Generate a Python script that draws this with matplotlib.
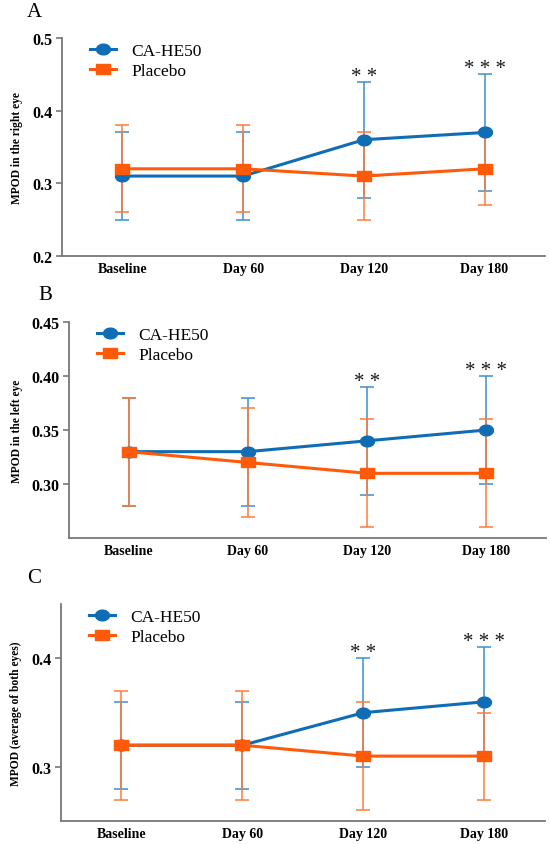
import numpy as np
import matplotlib
matplotlib.use('Agg')
import matplotlib.pyplot as plt
from matplotlib.path import Path

# data
days = ['Baseline', 'Day 60', 'Day 120', 'Day 180']

right_ca = [0.31, 0.31, 0.36, 0.37]
right_ca_err = [0.06, 0.06, 0.08, 0.08]
right_pl = [0.32, 0.32, 0.31, 0.32]
right_pl_err = [0.06, 0.06, 0.06, 0.05]

left_ca = [0.33, 0.33, 0.34, 0.35]
left_ca_err = [0.05, 0.05, 0.05, 0.05]
left_pl = [0.33, 0.32, 0.31, 0.31]
left_pl_err = [0.05, 0.05, 0.05, 0.05]

both_ca = [0.32, 0.32, 0.35, 0.36]
both_ca_err = [0.04, 0.04, 0.05, 0.05]
both_pl = [0.32, 0.32, 0.31, 0.31]
both_pl_err = [0.05, 0.05, 0.05, 0.04]

stars = ['', '', '* *', '* * *']

plt.rcParams['font.family'] = ['Liberation Serif', 'DejaVu Serif']

blue = '#0F6DB5'
blue_err = '#3A8FD0'
orange = '#FF5A0A'
orange_err = '#FF7A3A'

# slightly wide markers like in the picture
t = np.linspace(0, 2 * np.pi, 60)
ellipse = Path(np.column_stack([1.3 * np.cos(t), np.sin(t)]), closed=True)
wide_sq = Path([(-1.3, -1), (1.3, -1), (1.3, 1), (-1.3, 1), (-1.3, -1)], closed=True)

fig = plt.figure(figsize=(5.5, 8.45), dpi=100)

panels = [
    ('A', [0.1127, 0.6959, 0.878, 0.2579], right_ca, right_ca_err, right_pl, right_pl_err,
     (0.2, 0.5), [0.2, 0.3, 0.4, 0.5], '%.1f', 'MPOD in the right eye', -0.08, -0.072),
    ('B', [0.1255, 0.3618, 0.867, 0.2563], left_ca, left_ca_err, left_pl, left_pl_err,
     (0.25, 0.45), [0.30, 0.35, 0.40, 0.45], '%.2f', 'MPOD in the left eye', -0.096, -0.065),
    ('C', [0.1109, 0.0269, 0.880, 0.2571], both_ca, both_ca_err, both_pl, both_pl_err,
     (0.25, 0.45), [0.3, 0.4], '%.1f', 'MPOD (average of both eyes)', -0.081, -0.07),
]

x = np.arange(len(days))
for lab, rect, ca, ca_e, pl, pl_e, ylim, yt, fmt, ylab, lx, px in panels:
    ax = fig.add_axes(rect)
    ax.errorbar(x, ca, yerr=ca_e, fmt='none', ecolor=blue_err, elinewidth=1.1,
                capsize=4.8, capthick=1.1, zorder=2)
    ax.errorbar(x, pl, yerr=pl_e, fmt='none', ecolor=orange_err, elinewidth=1.1,
                capsize=4.8, capthick=1.1, zorder=3)
    ax.plot(x, ca, color=blue, lw=2.2, marker=ellipse, ms=10, label='CA-HE50', zorder=4)
    ax.plot(x, pl, color=orange, lw=2.2, marker=wide_sq, ms=9.5, label='Placebo', zorder=5)

    for i, s in enumerate(stars):
        if s:
            top = ca[i] + ca_e[i]
            ax.annotate(s, (x[i], top), xytext=(0, 4), textcoords='offset points',
                        ha='center', va='center', fontsize=15, color='#1a1a1a')

    ax.set_xlim(-0.5, 3.5)
    ax.set_ylim(*ylim)
    ax.set_yticks(yt)
    ax.set_yticklabels([fmt % v for v in yt], fontsize=11.5, fontweight='bold')
    ax.set_xticks(x)
    ax.set_xticklabels(days, fontsize=10, fontweight='bold')
    ax.tick_params(axis='x', length=0, pad=4)
    ax.tick_params(axis='y', length=4, width=1.2, color='#777777', pad=3)
    for sp in ['top', 'right']:
        ax.spines[sp].set_visible(False)
    for sp in ['left', 'bottom']:
        ax.spines[sp].set_color('#777777')
        ax.spines[sp].set_linewidth(1.3)
    ax.set_ylabel(ylab, fontsize=8.3, fontweight='bold')
    ax.yaxis.set_label_coords(lx, 0.5)

    ax.legend(loc='upper left', bbox_to_anchor=(0.025, 1.05), frameon=False,
              fontsize=12.5, handlelength=1.5, handletextpad=0.9, labelspacing=0.25)

    ax.text(px, 1.08, lab, transform=ax.transAxes,
            fontsize=15, ha='left', va='bottom')

fig.savefig('out.png', dpi=100)
